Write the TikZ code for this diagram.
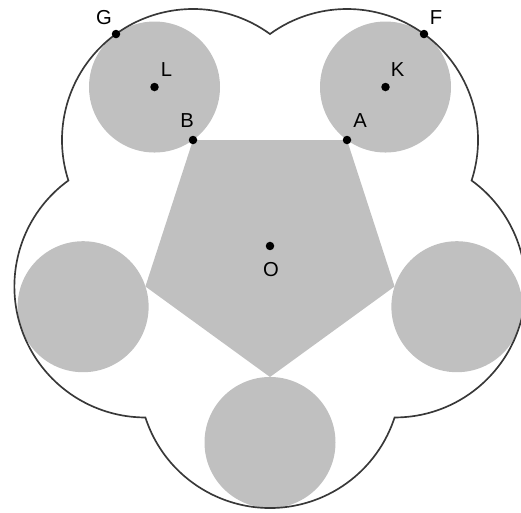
\documentclass[tikz,border=0pt]{standalone}
\usepackage{fontspec}
\setmainfont{Liberation Sans}
\definecolor{shade}{RGB}{192,192,192}
\definecolor{rim}{RGB}{56,56,56}
\tikzset{
  lbl/.style={inner sep=0pt,font=\fontsize{11.5}{13}\selectfont},
  disc/.style={fill=shade,draw=none}
}
\begin{document}
\begin{tikzpicture}[>=stealth,x=1.0cm,y=1.0cm,scale=1]
                    \useasboundingbox (0,0) rectangle (10.42,10.26);
                    \clip (0,0) rectangle (10.42,10.26);
                    % centre and vertices of the pentagon
                    \coordinate (O) at (5.4,5.34);
                    \coordinate (A) at ([shift={(54:2.62)}]O);
                    \coordinate (B) at ([shift={(126:2.62)}]O);
                    \coordinate (C) at ([shift={(198:2.62)}]O);
                    \coordinate (D) at ([shift={(270:2.62)}]O);
                    \coordinate (E) at ([shift={(342:2.62)}]O);
                    % centres of the small circles
                    \coordinate (K) at ([shift={(54:3.93)}]O);
                    \coordinate (L) at ([shift={(126:3.93)}]O);
                    \coordinate (P) at ([shift={(198:3.93)}]O);
                    \coordinate (Q) at ([shift={(270:3.93)}]O);
                    \coordinate (S) at ([shift={(342:3.93)}]O);
                    \coordinate (F) at ([shift={(54:2.62)}]A);
                    \coordinate (G) at ([shift={(126:2.62)}]B);
                    \coordinate (N) at ([shift={(18:4.239)}]O);
                    \fill[disc] (A)--(B)--(C)--(D)--(E)--cycle;
                    \fill[disc]
                    (K) circle(1.31) (L) circle(1.31)
                    (P) circle(1.31) (Q) circle(1.31)
                    (S) circle(1.31);
                    \draw[rim, line width=0.95pt] (N)
                    arc[start angle=-18, end angle=126, radius=2.62]
                    arc[start angle=54, end angle=198, radius=2.62]
                    arc[start angle=126, end angle=270, radius=2.62]
                    arc[start angle=198, end angle=342, radius=2.62]
                    arc[start angle=270, end angle=414, radius=2.62] -- cycle;
                    \fill[black]
                    (O) circle(0.085)	(A) circle(0.085)
                    (B) circle(0.085)	(K) circle(0.085)
                    (L) circle(0.085)	(F) circle(0.085)
                    (G) circle(0.085);
                    \node[lbl] (tO) at ([shift={(0.02,-0.48)}]O) {O};
                    \node[lbl] (tA) at ([shift={(0.26,0.38)}]A) {A};
                    \node[lbl] (tB) at ([shift={(-0.12,0.38)}]B) {B};
                    \node[lbl] (tK) at ([shift={(0.24,0.34)}]K) {K};
                    \node[lbl] (tL) at ([shift={(0.24,0.34)}]L) {L};
                    \node[lbl] (tF) at ([shift={(0.24,0.32)}]F) {F};
                    \node[lbl] (tG) at ([shift={(-0.24,0.32)}]G) {G};
\end{tikzpicture}
\end{document}
